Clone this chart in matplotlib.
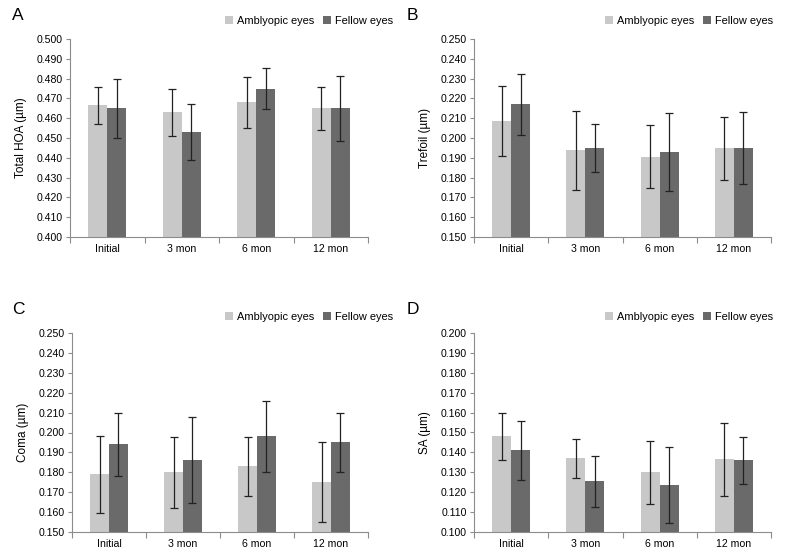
import matplotlib
matplotlib.use("Agg")
import matplotlib.pyplot as plt
import numpy as np

plt.rcParams['font.family'] = ['Liberation Sans', 'DejaVu Sans']

categories = ["Initial", "3 mon", "6 mon", "12 mon"]
series_names = ["Amblyopic eyes", "Fellow eyes"]

# Panel A: Total HOA
hoa_amb = [0.4665, 0.463, 0.468, 0.465]
hoa_amb_err = [0.0095, 0.012, 0.0128, 0.011]
hoa_fel = [0.465, 0.453, 0.475, 0.465]
hoa_fel_err = [0.015, 0.014, 0.0103, 0.0163]

# Panel B: Trefoil
tre_amb = [0.2087, 0.1937, 0.1906, 0.1947]
tre_amb_err = [0.0178, 0.0199, 0.0158, 0.0158]
tre_fel = [0.217, 0.195, 0.193, 0.195]
tre_fel_err = [0.0155, 0.012, 0.0198, 0.018]

# Panel C: Coma
coma_amb = [0.179, 0.180, 0.183, 0.175]
coma_amb_err = [0.0194, 0.0178, 0.0148, 0.020]
coma_fel = [0.194, 0.186, 0.198, 0.195]
coma_fel_err = [0.016, 0.0216, 0.0178, 0.015]

# Panel D: SA
sa_amb = [0.148, 0.137, 0.130, 0.1365]
sa_amb_err = [0.012, 0.0098, 0.0158, 0.0182]
sa_fel = [0.141, 0.1255, 0.1237, 0.136]
sa_fel_err = [0.0148, 0.0128, 0.019, 0.0118]

panels = [
    ("A", "Total HOA (\u00b5m)", hoa_amb, hoa_amb_err, hoa_fel, hoa_fel_err, (0.400, 0.500)),
    ("B", "Trefoil (\u00b5m)", tre_amb, tre_amb_err, tre_fel, tre_fel_err, (0.150, 0.250)),
    ("C", "Coma (\u00b5m)", coma_amb, coma_amb_err, coma_fel, coma_fel_err, (0.150, 0.250)),
    ("D", "SA (\u00b5m)", sa_amb, sa_amb_err, sa_fel, sa_fel_err, (0.100, 0.200)),
]

W, H = 789, 560
fig = plt.figure(figsize=(W / 100, H / 100), dpi=100)

# axes rectangles in pixels: left, top, right, bottom
rects = [(70, 39, 368, 237), (474, 39, 771, 237), (72, 333, 368, 532), (474, 333, 771, 532)]
letter_pos = [(12, 8), (407, 8), (12, 302), (407, 302)]
legend_pos = [(393, 16), (773, 16), (393, 312), (773, 312)]

light = "#c8c8c8"
dark = "#6a6a6a"
spine_c = "#8c8c8c"
bw = 0.255

for (letter, ylabel, amb, amb_e, fel, fel_e, ylim), r, lp, lg in zip(panels, rects, letter_pos, legend_pos):
    l, t, rr, b = r
    ax = fig.add_axes([l / W, 1 - b / H, (rr - l) / W, (b - t) / H])
    x = np.arange(len(categories))
    ax.bar(x - bw / 2, amb, bw, color=light, label=series_names[0], zorder=2)
    ax.bar(x + bw / 2, fel, bw, color=dark, label=series_names[1], zorder=2)
    ax.errorbar(x - bw / 2, amb, yerr=amb_e, fmt='none', ecolor='#222222', elinewidth=0.9, capsize=3, capthick=0.9, zorder=3)
    ax.errorbar(x + bw / 2, fel, yerr=fel_e, fmt='none', ecolor='#222222', elinewidth=0.9, capsize=3, capthick=0.9, zorder=3)
    ax.set_xlim(-0.5, len(categories) - 0.5)
    ax.set_ylim(*ylim)
    yt = np.linspace(ylim[0], ylim[1], 11)
    ax.set_yticks(yt)
    ax.set_yticklabels([f"{v:.3f}" for v in yt], fontsize=7.6)
    ax.set_xticks(x)
    ax.set_xticklabels(categories, fontsize=7.6)
    ax.tick_params(axis='x', which='major', length=0, pad=5)
    ax.set_xticks(np.arange(-0.5, len(categories), 1.0), minor=True)
    ax.tick_params(axis='x', which='minor', length=4, color=spine_c, width=0.8)
    ax.tick_params(axis='y', length=3, color=spine_c, width=0.8, pad=2)
    for s in ['top', 'right']:
        ax.spines[s].set_visible(False)
    for s in ['left', 'bottom']:
        ax.spines[s].set_color(spine_c)
        ax.spines[s].set_linewidth(0.8)
    ax.set_ylabel(ylabel, fontsize=8.5, labelpad=7)
    fig.text(lp[0] / W, 1 - lp[1] / H, letter, fontsize=12.5, va='top', ha='left')
    ax.legend(loc='upper right', bbox_to_anchor=(lg[0] / W, 1 - lg[1] / H),
              bbox_transform=fig.transFigure, ncol=2, frameon=False, fontsize=7.9,
              handlelength=0.75, handleheight=0.75, handletextpad=0.35, columnspacing=0.8,
              borderaxespad=0, borderpad=0)

fig.savefig("out.png", dpi=100)
